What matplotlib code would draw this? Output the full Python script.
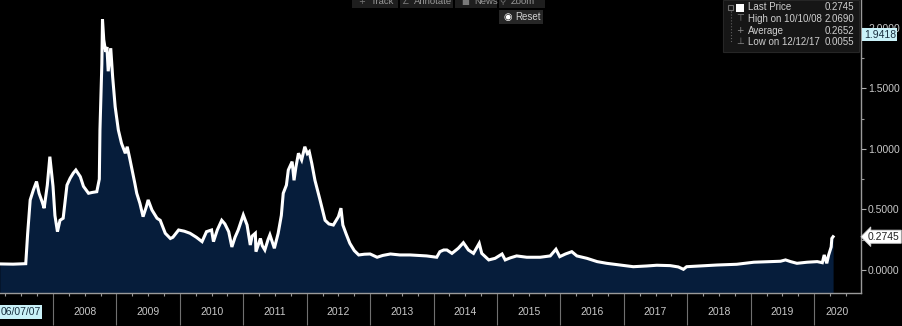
import numpy as np
import matplotlib.pyplot as plt
from matplotlib.ticker import FixedLocator, MultipleLocator, FormatStrFormatter

plt.rcParams['font.family'] = ['Liberation Sans', 'DejaVu Sans']

# time axis in decimal years, price series
years = [2007.16, 2007.37, 2007.57, 2007.60, 2007.64, 2007.69, 2007.74, 2007.78, 2007.83, 2007.86,
         2007.91, 2007.95, 2008.00, 2008.03, 2008.07, 2008.11, 2008.16, 2008.22, 2008.27, 2008.32,
         2008.36, 2008.43, 2008.48, 2008.56, 2008.62, 2008.69, 2008.73, 2008.74, 2008.77, 2008.78,
         2008.80, 2008.83, 2008.85, 2008.87, 2008.91, 2008.94, 2008.98, 2009.03, 2009.08, 2009.14,
         2009.17, 2009.21, 2009.29, 2009.32, 2009.37, 2009.42, 2009.47, 2009.50, 2009.56, 2009.64,
         2009.69, 2009.77, 2009.85, 2009.89, 2009.98, 2010.07, 2010.16, 2010.26, 2010.35, 2010.42,
         2010.50, 2010.53, 2010.59, 2010.66, 2010.71, 2010.77, 2010.82, 2010.87, 2010.92, 2011.00,
         2011.06, 2011.11, 2011.14, 2011.19, 2011.20, 2011.27, 2011.30, 2011.34, 2011.39, 2011.42,
         2011.49, 2011.55, 2011.60, 2011.63, 2011.68, 2011.71, 2011.77, 2011.80, 2011.83, 2011.87,
         2011.92, 2011.97, 2012.01, 2012.04, 2012.08, 2012.13, 2012.21, 2012.29, 2012.35, 2012.42,
         2012.50, 2012.54, 2012.57, 2012.62, 2012.68, 2012.75, 2012.82, 2012.91, 2013.00, 2013.11,
         2013.20, 2013.32, 2013.47, 2013.63, 2013.76, 2013.89, 2014.05, 2014.10, 2014.16, 2014.21,
         2014.29, 2014.39, 2014.47, 2014.55, 2014.63, 2014.72, 2014.76, 2014.87, 2014.97, 2015.08,
         2015.13, 2015.21, 2015.31, 2015.47, 2015.68, 2015.84, 2015.93, 2015.99, 2016.08, 2016.18,
         2016.26, 2016.42, 2016.58, 2016.73, 2016.94, 2017.15, 2017.36, 2017.52, 2017.73, 2017.86,
         2017.94, 2017.99, 2018.20, 2018.47, 2018.78, 2019.05, 2019.31, 2019.47, 2019.55, 2019.63,
         2019.73, 2019.89, 2020.05, 2020.13, 2020.16, 2020.20, 2020.23, 2020.27, 2020.28, 2020.30]
price = [0.050, 0.048, 0.052, 0.300, 0.578, 0.660, 0.730, 0.633, 0.560, 0.510,
         0.700, 0.935, 0.690, 0.450, 0.316, 0.410, 0.427, 0.700, 0.757, 0.800,
         0.825, 0.770, 0.690, 0.633, 0.640, 0.646, 0.750, 1.155, 1.700, 2.069,
         1.900, 1.800, 1.840, 1.640, 1.830, 1.595, 1.347, 1.155, 1.045, 0.963,
         1.017, 0.920, 0.715, 0.633, 0.550, 0.440, 0.520, 0.578, 0.495, 0.427,
         0.410, 0.303, 0.260, 0.270, 0.330, 0.320, 0.303, 0.270, 0.234, 0.316,
         0.330, 0.234, 0.330, 0.410, 0.380, 0.316, 0.190, 0.270, 0.330, 0.454,
         0.371, 0.206, 0.280, 0.303, 0.151, 0.260, 0.200, 0.165, 0.250, 0.290,
         0.179, 0.303, 0.450, 0.633, 0.700, 0.825, 0.894, 0.740, 0.850, 0.963,
         0.908, 1.017, 0.960, 0.976, 0.880, 0.740, 0.578, 0.410, 0.380, 0.371,
         0.440, 0.510, 0.371, 0.300, 0.220, 0.160, 0.124, 0.130, 0.132, 0.105,
         0.120, 0.132, 0.124, 0.124, 0.120, 0.116, 0.105, 0.151, 0.165, 0.165,
         0.137, 0.179, 0.225, 0.165, 0.137, 0.220, 0.137, 0.083, 0.096, 0.132,
         0.083, 0.100, 0.116, 0.105, 0.105, 0.116, 0.171, 0.110, 0.132, 0.151,
         0.116, 0.096, 0.069, 0.055, 0.041, 0.027, 0.033, 0.039, 0.036, 0.025,
         0.0055, 0.027, 0.033, 0.041, 0.047, 0.064, 0.069, 0.072, 0.083, 0.069,
         0.055, 0.064, 0.069, 0.060, 0.124, 0.055, 0.124, 0.190, 0.260, 0.2745]

year_labels = [str(y) for y in range(2008, 2021)]
start_label = '06/07/07'
legend_rows = [('Last Price', '0.2745'), ('High on 10/10/08', '2.0690'),
               ('Average', '0.2652'), ('Low on 12/12/17', '0.0055')]
last_price = 0.2745
side_value = 1.9418

W, H = 902, 326
fig = plt.figure(figsize=(W / 100, H / 100), dpi=100, facecolor='black')
ax = fig.add_axes([0, 33 / H, 861 / W, 293 / H], facecolor='black')

def fx(x):
    return x / W

def fy(y):
    return 1 - y / H

ymin, ymax = -0.19, 2.228
x0, x1 = 2007.164, 2020.74

ax.fill_between(years, price, ymin, color='#061d3b', lw=0)
ax.plot(years, price, color='white', lw=2.2, solid_joinstyle='miter')
ax.set_xlim(x0, x1)
ax.set_ylim(ymin, ymax)

for s in ['top', 'left']:
    ax.spines[s].set_visible(False)
for s in ['right', 'bottom']:
    ax.spines[s].set_color('#9a9a9a')
    ax.spines[s].set_linewidth(1)

# x axis: long year separators, short quarter ticks, labels centred in each year
ax.xaxis.set_major_locator(FixedLocator(range(2008, 2021)))
ax.xaxis.set_minor_locator(FixedLocator([y + q for y in range(2007, 2021) for q in (0.25, 0.5, 0.75)]))
ax.tick_params(axis='x', which='major', length=23, width=0.8, color='#707070', labelbottom=False)
ax.tick_params(axis='x', which='minor', length=2.5, width=0.8, color='#9a9a9a')

tr = ax.get_xaxis_transform()
for lab in year_labels:
    y = int(lab)
    c = min(y + 0.5, (y + x1) / 2)
    ax.text(c, -0.065, lab, transform=tr, ha='center', va='center',
            fontsize=7.5, color='#c8c8c8', clip_on=False)
ax.text(x0 + 0.005, -0.065, start_label, transform=tr, ha='left', va='center',
        fontsize=7.5, color='#1a3040', clip_on=False,
        bbox=dict(boxstyle='square,pad=0.15', fc='#c9f1f8', ec='none'))

# y axis on the right
ax.yaxis.tick_right()
ax.yaxis.set_major_locator(FixedLocator([0, 0.5, 1.0, 1.5, 2.0]))
ax.yaxis.set_minor_locator(MultipleLocator(0.25))
ax.yaxis.set_major_formatter(FormatStrFormatter('%.4f'))
ax.tick_params(axis='y', which='major', length=3.5, width=0.8, color='#b0b0b0',
               labelsize=7.5, labelcolor='#c8c8c8', pad=1.5)
ax.tick_params(axis='y', which='minor', length=2, width=0.8, color='#9a9a9a')

ax.annotate(f'{last_price:.4f}', xy=(1, last_price), xycoords=('axes fraction', 'data'),
            xytext=(5, 0), textcoords='offset points', ha='left', va='center',
            fontsize=7.5, color='#202020', annotation_clip=False,
            bbox=dict(boxstyle='larrow,pad=0.15', fc='white', ec='#d0d0d0', lw=0.6))
ax.annotate(f'{side_value:.4f}', xy=(1, side_value), xycoords=('axes fraction', 'data'),
            xytext=(2, 0), textcoords='offset points', ha='left', va='center',
            fontsize=7.5, color='#1a3040', annotation_clip=False,
            bbox=dict(boxstyle='square,pad=0.15', fc='#c9f1f8', ec='none'))

# legend panel, top right
fig.patches.append(plt.Rectangle((fx(723), fy(52)), fx(136), 52 / H, transform=fig.transFigure,
                                 fc='#161616', ec='#262626', lw=0.8, zorder=5))
row_y = [7.3, 18.5, 30.5, 41.7]
icons = ['', '⊤', '+', '⊥']
for (name, val), ry, ic in zip(legend_rows, row_y, icons):
    fig.text(fx(748), fy(ry), name, ha='left', va='center', fontsize=7, color='#cfcfcf', zorder=6)
    fig.text(fx(854), fy(ry), val, ha='right', va='center', fontsize=7, color='#cfcfcf', zorder=6)
    if ic:
        fig.text(fx(740), fy(ry), ic, ha='center', va='center', fontsize=6.5, color='#8a8a8a',
                 family='DejaVu Sans', zorder=6)
fig.patches.append(plt.Rectangle((fx(736), fy(12)), fx(8), 8 / H, transform=fig.transFigure,
                                 fc='white', ec='none', zorder=6))
fig.patches.append(plt.Rectangle((fx(728), fy(10)), fx(5), 5 / H, transform=fig.transFigure,
                                 fc='none', ec='#707070', lw=0.8, zorder=6))
fig.lines.append(plt.Line2D([fx(730.5), fx(730.5)], [fy(11), fy(42)], transform=fig.transFigure,
                            color='#606060', lw=0.8, ls=':', zorder=6))

# toolbar buttons along the top edge
buttons = [(352, 398, 362, '+', 'Track'), (400, 453, 405, '∠', 'Annotate'),
           (455, 497, 465, '■', 'News'), (499, 545, 502, '⚲', 'Zoom')]
for xa, xb, xi, ic, lab in buttons:
    fig.patches.append(plt.Rectangle((fx(xa), fy(8)), fx(xb - xa), 8 / H, transform=fig.transFigure,
                                     fc='#1e1e1e', ec='none', zorder=5))
    fig.text(fx(xi), fy(1.5), ic, ha='center', va='center', fontsize=6, color='#7a7a7a',
             family='DejaVu Sans', zorder=6)
    fig.text(fx(xi + 9), fy(1.5), lab, ha='left', va='center', fontsize=6.8, color='#9a9a9a', zorder=6)
fig.patches.append(plt.Rectangle((fx(499), fy(24)), fx(44), 14 / H, transform=fig.transFigure,
                                 fc='#262626', ec='none', zorder=5))
fig.text(fx(508), fy(16.7), '◉', ha='center', va='center', fontsize=7, color='white',
         family='DejaVu Sans', zorder=6)
fig.text(fx(515), fy(16.7), 'Reset', ha='left', va='center', fontsize=7, color='#d0d0d0', zorder=6)

fig.savefig('out.png', dpi=100, facecolor='black')
